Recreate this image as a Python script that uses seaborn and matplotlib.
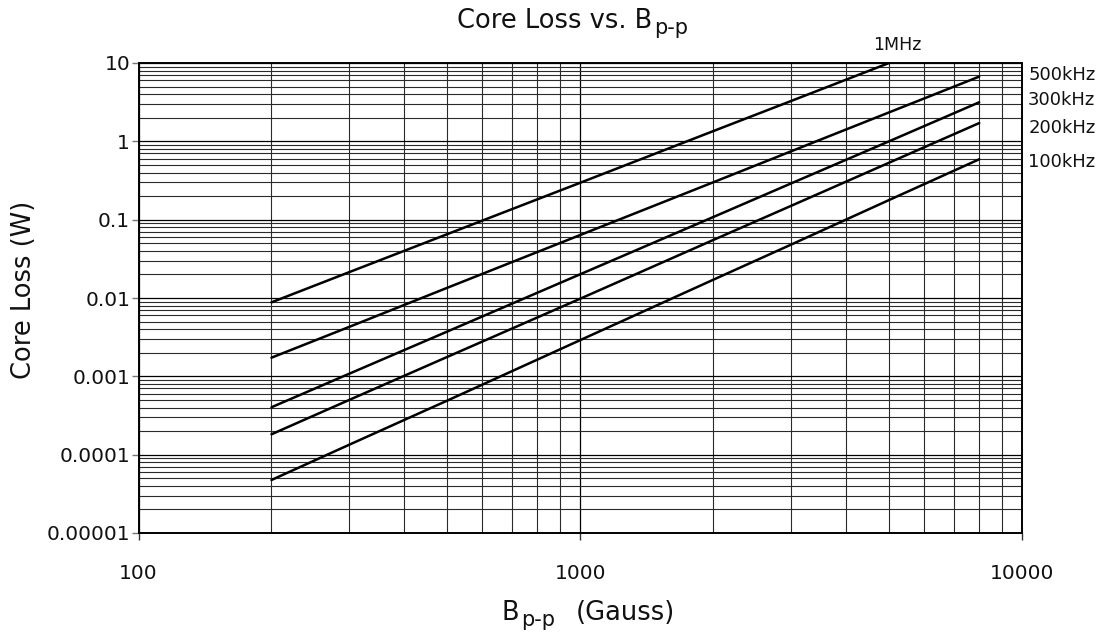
import numpy as np
import pandas as pd
import matplotlib
matplotlib.use("Agg")
import matplotlib.pyplot as plt
import seaborn as sns

# ---- data ----
b_gauss = [200, 300, 500, 1000, 2000, 3000, 5000, 8000]
loss_100k = [4.75e-5, 1.34e-4, 4.9e-4, 0.0029, 0.0171, 0.048, 0.178, 0.59]
loss_200k = [1.82e-4, 5.0e-4, 1.77e-3, 0.0098, 0.055, 0.150, 0.533, 1.71]
loss_300k = [4.03e-4, 1.08e-3, 3.73e-3, 0.0201, 0.108, 0.29, 1.0, 3.15]
loss_500k = [1.73e-3, 4.28e-3, 0.0135, 0.0637, 0.30, 0.745, 2.34, 6.7]
b_1m = [200, 300, 500, 1000, 2000, 3000, 5000]
loss_1m = [0.0088, 0.0214, 0.0653, 0.296, 1.35, 3.27, 10.0]

freq_labels = ["1MHz", "500kHz", "300kHz", "200kHz", "100kHz"]
x_ticks = [100, 1000, 10000]
x_ticklabels = ["100", "1000", "10000"]
y_ticks = [1e-5, 1e-4, 1e-3, 1e-2, 1e-1, 1, 10]
y_ticklabels = ["0.00001", "0.0001", "0.001", "0.01", "0.1", "1", "10"]

frames = []
for lab, xs, ys in [("1MHz", b_1m, loss_1m), ("500kHz", b_gauss, loss_500k),
                    ("300kHz", b_gauss, loss_300k), ("200kHz", b_gauss, loss_200k),
                    ("100kHz", b_gauss, loss_100k)]:
    frames.append(pd.DataFrame({"B": xs, "loss": ys, "freq": lab}))
df = pd.concat(frames, ignore_index=True)

sns.set_theme(style="white")
plt.rcParams["font.family"] = ["DejaVu Sans"]
plt.rcParams["text.color"] = "#111111"
plt.rcParams["xtick.labelcolor"] = "#111111"
plt.rcParams["ytick.labelcolor"] = "#111111"

fig = plt.figure(figsize=(11.03, 6.35), dpi=100)
ax = fig.add_axes([138.5 / 1103, 102 / 635, (1022 - 138.5) / 1103, 470 / 635])

sns.lineplot(data=df, x="B", y="loss", hue="freq", hue_order=freq_labels,
             palette=["black"] * 5, legend=False, estimator=None,
             linewidth=1.8, ax=ax, zorder=3)

ax.set_xscale("log")
ax.set_yscale("log")
ax.set_xlim(100, 10000)
ax.set_ylim(1e-5, 10)

ax.grid(True, which="major", color="black", linewidth=0.9)
ax.grid(True, which="minor", color="#2a2a2a", linewidth=0.8)
ax.set_axisbelow(True)

ax.set_xticks(x_ticks)
ax.set_xticklabels(x_ticklabels)
ax.set_yticks(y_ticks)
ax.set_yticklabels(y_ticklabels)
ax.tick_params(axis="both", which="minor", length=0)
ax.tick_params(axis="y", which="major", direction="out", length=5, width=1.0,
               color="#777777", pad=1, labelsize=14.5, left=True)
ax.tick_params(axis="x", which="major", direction="out", length=5, width=1.0,
               color="#333333", pad=17, labelsize=14.5, bottom=True)

for s in ax.spines.values():
    s.set_color("black")
    s.set_linewidth(1.4)

ax.set_xlabel("")
ax.set_ylabel("")

# curve labels
ax.text(0.859, 1.038, "1MHz", transform=ax.transAxes, ha="center", va="center",
        fontsize=12.5)
for lab, yy in zip(freq_labels[1:], [0.974, 0.921, 0.862, 0.789]):
    ax.text(1.007, yy, lab, transform=ax.transAxes, ha="left", va="center",
            fontsize=13)

# title with subscript
t1 = fig.text(457 / 1103, 1 - 28 / 635, "Core Loss vs. B", ha="left",
              va="baseline", fontsize=18.5)
ax.annotate("p-p", xy=(1, 0), xycoords=t1, xytext=(1.0, -3.0),
            textcoords="offset points", ha="left", va="bottom", fontsize=15,
            annotation_clip=False)

# x label with subscript
x1 = fig.text(502 / 1103, 1 - 619.5 / 635, "B", ha="left", va="baseline",
              fontsize=18.5)
x2 = ax.annotate("p-p", xy=(1, 0), xycoords=x1, xytext=(1.0, -3.0),
                 textcoords="offset points", ha="left", va="bottom",
                 fontsize=15, annotation_clip=False)
ax.annotate("(Gauss)", xy=(1, 0), xycoords=x2, xytext=(15, 3.0),
            textcoords="offset points", ha="left", va="bottom", fontsize=18.5,
            annotation_clip=False)

# y label
fig.text(24 / 1103, 1 - 290 / 635, "Core Loss (W)", rotation=90, ha="center",
         va="center", fontsize=18.5)

fig.savefig("out.png", dpi=100)
